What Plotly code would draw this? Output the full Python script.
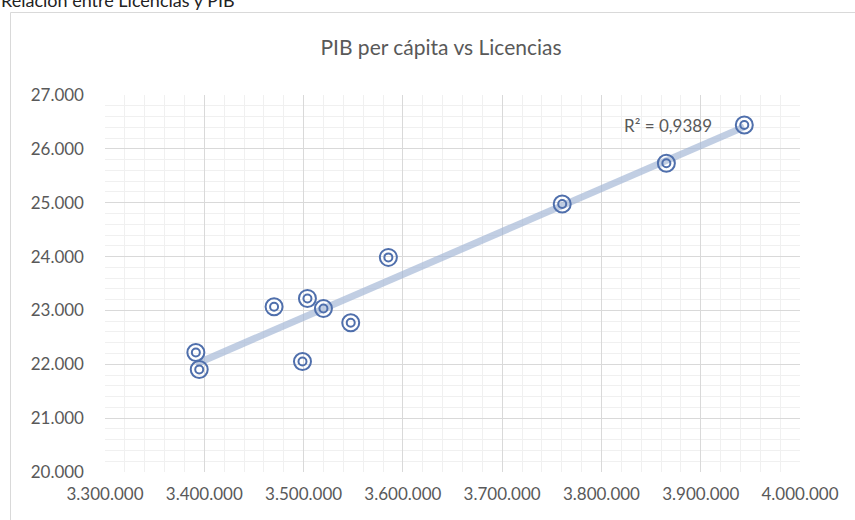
import numpy as np
import plotly.graph_objects as go

licencias = [3391500, 3394900, 3470300, 3498900, 3503900, 3520000, 3547500, 3585400, 3760500, 3865400, 3943900]
pib = [22219, 21903, 23067, 22052, 23223, 23037, 22770, 23985, 24976, 25732, 26444]

x_ticks = [3300000, 3400000, 3500000, 3600000, 3700000, 3800000, 3900000, 4000000]
y_ticks = [20000, 21000, 22000, 23000, 24000, 25000, 26000, 27000]

def fmt(v):
    return f"{v:,}".replace(",", ".")

x_arr = np.array(licencias, dtype=float)
y_arr = np.array(pib, dtype=float)
m, b = np.polyfit(x_arr, y_arr, 1)
r2_text = "R² = 0,9389"

tx = np.array([x_arr.min(), x_arr.max()])
ty = m * tx + b

FONT = "Lato"
TXT = "#595959"
MC = "#4f6fac"

fig = go.Figure()
fig.add_trace(go.Scatter(x=tx, y=ty, mode="lines",
                         line=dict(color="rgba(160,180,212,0.65)", width=7),
                         hoverinfo="skip", showlegend=False))
fig.add_trace(go.Scatter(x=licencias, y=pib, mode="markers",
                         marker=dict(symbol="circle-open", size=17, color=MC, line=dict(width=2, color=MC)),
                         showlegend=False))
fig.add_trace(go.Scatter(x=licencias, y=pib, mode="markers",
                         marker=dict(symbol="circle-open", size=8, color=MC, line=dict(width=2, color=MC)),
                         showlegend=False, hoverinfo="skip"))

L, R, T, B = 105, 55, 95, 48
W, H = 855, 520
pw, ph = W - L - R, H - T - B

def px(xp):
    return (xp - L) / pw

def py(yp):
    return (H - B - yp) / ph

fig.update_layout(
    width=W, height=H,
    margin=dict(l=L, r=R, t=T, b=B),
    paper_bgcolor="white", plot_bgcolor="white",
    font=dict(family=FONT, color=TXT, size=17),
    title=dict(text="PIB per cápita vs Licencias", xref="container", x=441 / W, xanchor="center",
               yref="container", y=1 - 48 / H, yanchor="middle",
               font=dict(size=21, color=TXT, family=FONT)),
    xaxis=dict(range=[3300000, 4000000], tickvals=x_ticks, ticktext=[fmt(v) for v in x_ticks],
               showgrid=True, gridcolor="#d9d9d9", gridwidth=1,
               minor=dict(dtick=20000, showgrid=True, gridcolor="#f0f0f0", gridwidth=1),
               zeroline=False, showline=False, ticks="", ticklabelstandoff=10,
               tickfont=dict(size=17, color=TXT)),
    yaxis=dict(range=[20000, 27000], tickvals=y_ticks, ticktext=[fmt(v) for v in y_ticks],
               showgrid=True, gridcolor="#d9d9d9", gridwidth=1,
               minor=dict(dtick=200, showgrid=True, gridcolor="#f0f0f0", gridwidth=1),
               zeroline=False, showline=False, ticks="", ticklabelstandoff=20,
               tickfont=dict(size=17, color=TXT)),
    shapes=[dict(type="rect", xref="paper", yref="paper",
                 x0=px(10.5), x1=px(870), y0=py(540), y1=py(12.5),
                 line=dict(color="#d9d9d9", width=1), fillcolor="rgba(0,0,0,0)", layer="below")],
    annotations=[
        dict(text="Relación entre Licencias y PIB", xref="paper", yref="paper",
             x=px(-1), y=py(0), xanchor="left", yanchor="middle", showarrow=False,
             font=dict(size=18, color="#222222", family=FONT)),
        dict(text=r2_text, xref="x", yref="y", x=3821000, y=26440, xanchor="left", yanchor="middle",
             showarrow=False, font=dict(size=17, color=TXT, family=FONT)),
    ],
)

fig.write_html("out.html", config={"displayModeBar": False},
               post_script="document.body.style.margin='0';")
